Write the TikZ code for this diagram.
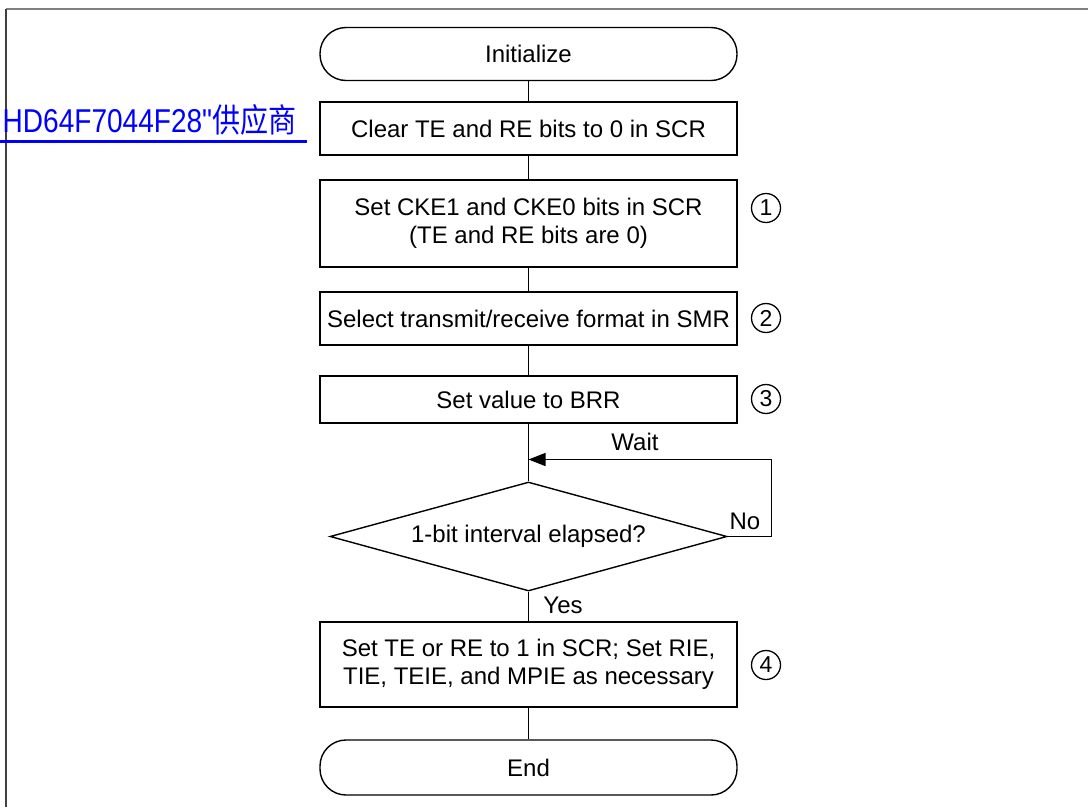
\documentclass[tikz,border=0pt]{standalone}
\usepackage{fontspec}
\usepackage{graphicx}
\setmainfont{Liberation Sans}
\newfontfamily\linkfont{Liberation Sans}[Ligatures=TeXOff]
\newfontfamily\cjkfont{Noto Sans CJK SC}
\usetikzlibrary{shapes.geometric,arrows.meta}
\definecolor{framegray}{HTML}{808080}
\definecolor{framedark}{HTML}{404040}
\definecolor{linkblue}{HTML}{0000FF}
\begin{document}
\begin{tikzpicture}[x=1pt,y=-1pt,line width=1.4pt,
  txt/.style={font=\fontsize{24}{28}\selectfont},
  procbox/.style={draw,txt,minimum width=417,minimum height=#1,inner sep=0,align=center},
  termbox/.style={draw,txt,minimum width=417,minimum height=53,inner sep=0,rounded corners=26},
  decbox/.style={draw,txt,shape=diamond,aspect=3.64,minimum width=397,minimum height=109,inner sep=0},
  numcirc/.style={draw,circle,minimum size=29,inner sep=0,line width=1.3pt,font=\fontsize{23}{23}\selectfont},
  lbl/.style={txt,inner sep=0},
  flow/.style={draw,line width=1.4pt}]
\useasboundingbox (0,0) rectangle (1088,807);
% frame
\draw[framegray,line width=2.2pt] (6,9) -- (1088,9);
\draw[framedark,line width=1.5pt] (6,9) -- (6,807);
% link text
\node[anchor=base west,text=linkblue,inner sep=0] (link) at (2,132)
  {\fontsize{33}{33}\selectfont\scalebox{0.85}[1]{\linkfont HD64F7044F28"{\cjkfont 供应商}}};
\draw[linkblue,line width=2.5pt] (0,141.5) -- (307,141.5);
% nodes
\node[termbox] (init) at (528.5,54) {Initialize};
\node[procbox=53] (clear) at (528.5,128.5) {Clear TE and RE bits to 0 in SCR};
\node[procbox=87] (cke) at (528.5,223.5) {Set CKE1 and CKE0 bits in SCR\\(TE and RE bits are 0)};
\node[procbox=53] (smr) at (528.5,318.5) {Select transmit/receive format in SMR};
\node[procbox=47] (brr) at (528.5,399.5) {Set value to BRR};
\node[decbox] (dia) at (528.5,536.5) {1-bit interval elapsed?};
\node[procbox=85] (last) at (528.5,664.5) {Set TE or RE to 1 in SCR; Set RIE,\\TIE, TEIE, and MPIE as necessary};
\node[termbox,minimum height=55] (end) at (528.5,767.5) {End};
% circled numbers
\node[numcirc] (n1) at (766,208) {1};
\node[numcirc] (n2) at (766,318) {2};
\node[numcirc] (n3) at (766,399) {3};
\node[numcirc] (n4) at (766,665) {4};
% connectors
\draw[flow] (init) -- (clear);
\draw[flow] (clear) -- (cke);
\draw[flow] (cke) -- (smr);
\draw[flow] (smr) -- (brr);
\draw[flow] (brr) -- (dia);
\draw[flow] (dia) -- (last);
\draw[flow] (last) -- (end);
\coordinate (join) at (528.5,459.5);
\coordinate (loopr) at (771.5,459.5);
\draw[flow,-{Triangle[length=17pt,width=13pt]}] (dia.east) -| (loopr) -- (join);
% labels
\node[lbl] (wait) at (635,442) {Wait};
\node[lbl] (no) at (745,521) {No};
\node[lbl] (yes) at (563,605) {Yes};
\end{tikzpicture}
\end{document}
